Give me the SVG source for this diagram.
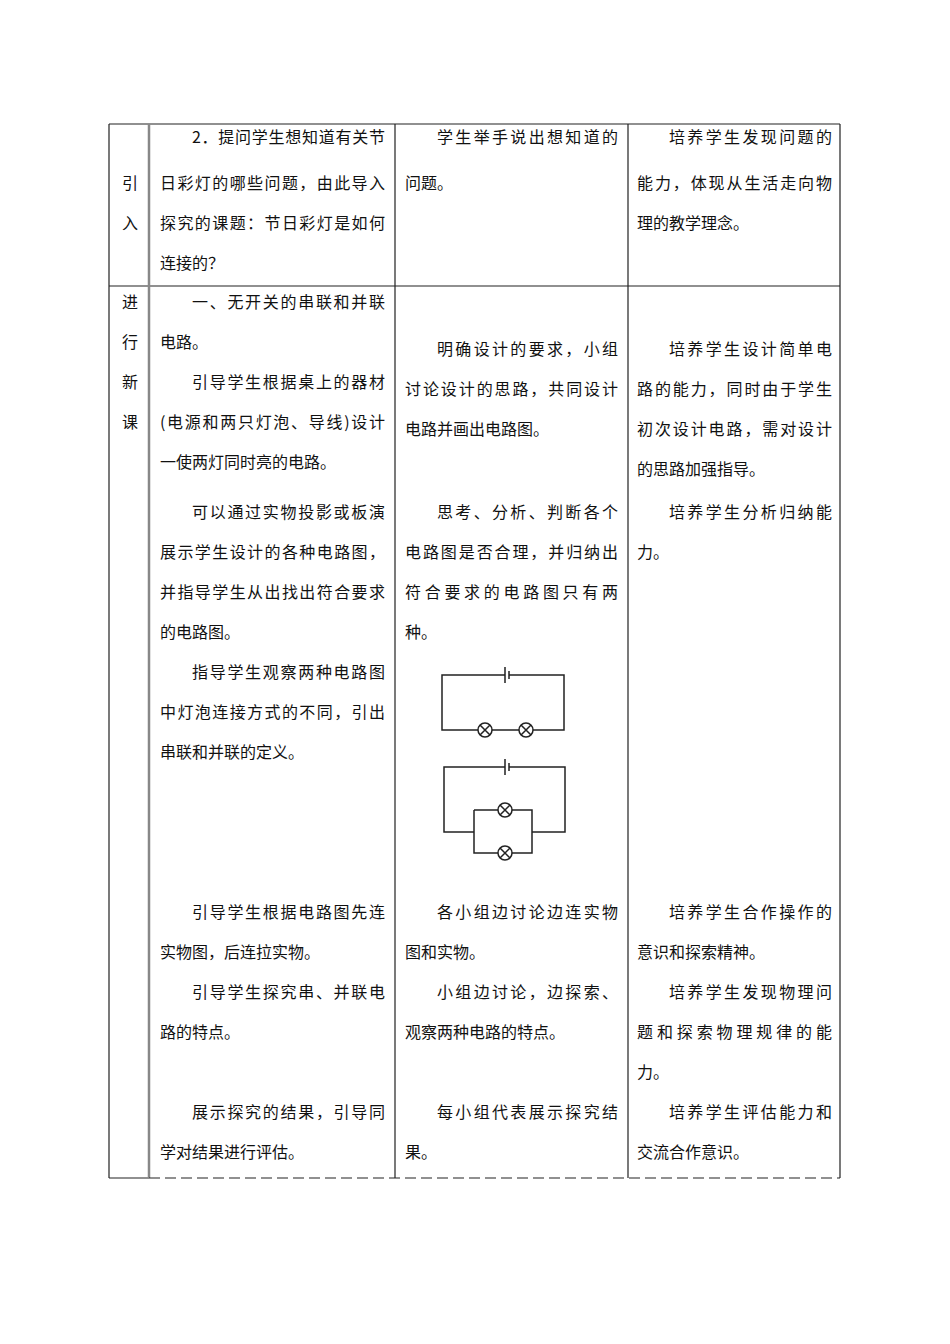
<svg xmlns="http://www.w3.org/2000/svg" width="950" height="1344" viewBox="0 0 950 1344">
<style>
text{font-family:"Noto Sans CJK SC","Liberation Serif",serif;font-size:16px;fill:#111}
.l{stroke:#222;stroke-width:1.2;fill:none}
.c{stroke:#222;stroke-width:1.5;fill:none}
</style>
<rect width="950" height="1344" fill="#fff"/>
<g id="table">
<path class="l" d="M109 124H840M109 286H840M109 124V1178M395 124V1178M628 124V1178M840 124V1178M109 1178H149"/>
<path d="M149 124V1178" stroke="#888" stroke-width="2.5"/>
<path class="l" d="M149 1178H840" stroke-dasharray="11,5"/>
</g>
<g id="col0">
<text x="122" y="189">引</text><text x="122" y="229">入</text>
<text x="122" y="308">进</text><text x="122" y="348">行</text><text x="122" y="388">新</text><text x="122" y="428">课</text>
</g>
<g id="col1">
<text x="192" y="143" textLength="193" lengthAdjust="spacing">2．提问学生想知道有关节</text>
<text x="160" y="189" textLength="225" lengthAdjust="spacing">日彩灯的哪些问题，由此导入</text>
<text x="160" y="229" textLength="225" lengthAdjust="spacing">探究的课题：节日彩灯是如何</text>
<text x="160" y="269">连接的？</text>
<text x="192" y="308" textLength="193" lengthAdjust="spacing">一、无开关的串联和并联</text>
<text x="160" y="348">电路。</text>
<text x="192" y="388" textLength="193" lengthAdjust="spacing">引导学生根据桌上的器材</text>
<text x="160" y="428" textLength="225" lengthAdjust="spacing">(电源和两只灯泡、导线)设计</text>
<text x="160" y="468">一使两灯同时亮的电路。</text>
<text x="192" y="518" textLength="193" lengthAdjust="spacing">可以通过实物投影或板演</text>
<text x="160" y="558" textLength="225" lengthAdjust="spacing">展示学生设计的各种电路图，</text>
<text x="160" y="598" textLength="225" lengthAdjust="spacing">并指导学生从出找出符合要求</text>
<text x="160" y="638">的电路图。</text>
<text x="192" y="678" textLength="193" lengthAdjust="spacing">指导学生观察两种电路图</text>
<text x="160" y="718" textLength="225" lengthAdjust="spacing">中灯泡连接方式的不同，引出</text>
<text x="160" y="758">串联和并联的定义。</text>
<text x="192" y="918" textLength="193" lengthAdjust="spacing">引导学生根据电路图先连</text>
<text x="160" y="958">实物图，后连拉实物。</text>
<text x="192" y="998" textLength="193" lengthAdjust="spacing">引导学生探究串、并联电</text>
<text x="160" y="1038">路的特点。</text>
<text x="192" y="1118" textLength="193" lengthAdjust="spacing">展示探究的结果，引导同</text>
<text x="160" y="1158">学对结果进行评估。</text>
</g>
<g id="col2">
<text x="437" y="143" textLength="181" lengthAdjust="spacing">学生举手说出想知道的</text>
<text x="405" y="189">问题。</text>
<text x="437" y="355" textLength="181" lengthAdjust="spacing">明确设计的要求，小组</text>
<text x="405" y="395" textLength="213" lengthAdjust="spacing">讨论设计的思路，共同设计</text>
<text x="405" y="435">电路并画出电路图。</text>
<text x="437" y="518" textLength="181" lengthAdjust="spacing">思考、分析、判断各个</text>
<text x="405" y="558" textLength="213" lengthAdjust="spacing">电路图是否合理，并归纳出</text>
<text x="405" y="598" textLength="213" lengthAdjust="spacing">符合要求的电路图只有两</text>
<text x="405" y="638">种。</text>
<text x="437" y="918" textLength="181" lengthAdjust="spacing">各小组边讨论边连实物</text>
<text x="405" y="958">图和实物。</text>
<text x="437" y="998" textLength="181" lengthAdjust="spacing">小组边讨论，边探索、</text>
<text x="405" y="1038">观察两种电路的特点。</text>
<text x="437" y="1118" textLength="181" lengthAdjust="spacing">每小组代表展示探究结</text>
<text x="405" y="1158">果。</text>
</g>
<g id="col3">
<text x="669" y="143" textLength="163" lengthAdjust="spacing">培养学生发现问题的</text>
<text x="637" y="189" textLength="195" lengthAdjust="spacing">能力，体现从生活走向物</text>
<text x="637" y="229">理的教学理念。</text>
<text x="669" y="355" textLength="163" lengthAdjust="spacing">培养学生设计简单电</text>
<text x="637" y="395" textLength="195" lengthAdjust="spacing">路的能力，同时由于学生</text>
<text x="637" y="435" textLength="195" lengthAdjust="spacing">初次设计电路，需对设计</text>
<text x="637" y="475">的思路加强指导。</text>
<text x="669" y="518" textLength="163" lengthAdjust="spacing">培养学生分析归纳能</text>
<text x="637" y="558">力。</text>
<text x="669" y="918" textLength="163" lengthAdjust="spacing">培养学生合作操作的</text>
<text x="637" y="958">意识和探索精神。</text>
<text x="669" y="998" textLength="163" lengthAdjust="spacing">培养学生发现物理问</text>
<text x="637" y="1038" textLength="195" lengthAdjust="spacing">题和探索物理规律的能</text>
<text x="637" y="1078">力。</text>
<text x="669" y="1118" textLength="163" lengthAdjust="spacing">培养学生评估能力和</text>
<text x="637" y="1158">交流合作意识。</text>
</g>
<g id="series-circuit">
<path class="c" d="M505 675H442V730H478M492 730H519M533 730H564V675H509"/>
<path class="c" d="M505 667V683M509 671V679" stroke-width="2"/>
<circle class="c" cx="485" cy="730" r="7"/><path class="c" d="M480 725L490 735M490 725L480 735"/>
<circle class="c" cx="526" cy="730" r="7"/><path class="c" d="M521 725L531 735M531 725L521 735"/>
</g>
<g id="parallel-circuit">
<path class="c" d="M505 767H444V832H474M474 810V853H498M512 853H532V810H512M498 810H474M532 832H565V767H509"/>
<path class="c" d="M505 759V775M509 763V771" stroke-width="2"/>
<circle class="c" cx="505" cy="810" r="7"/><path class="c" d="M500 805L510 815M510 805L500 815"/>
<circle class="c" cx="505" cy="853" r="7"/><path class="c" d="M500 848L510 858M510 848L500 858"/>
</g>
</svg>
